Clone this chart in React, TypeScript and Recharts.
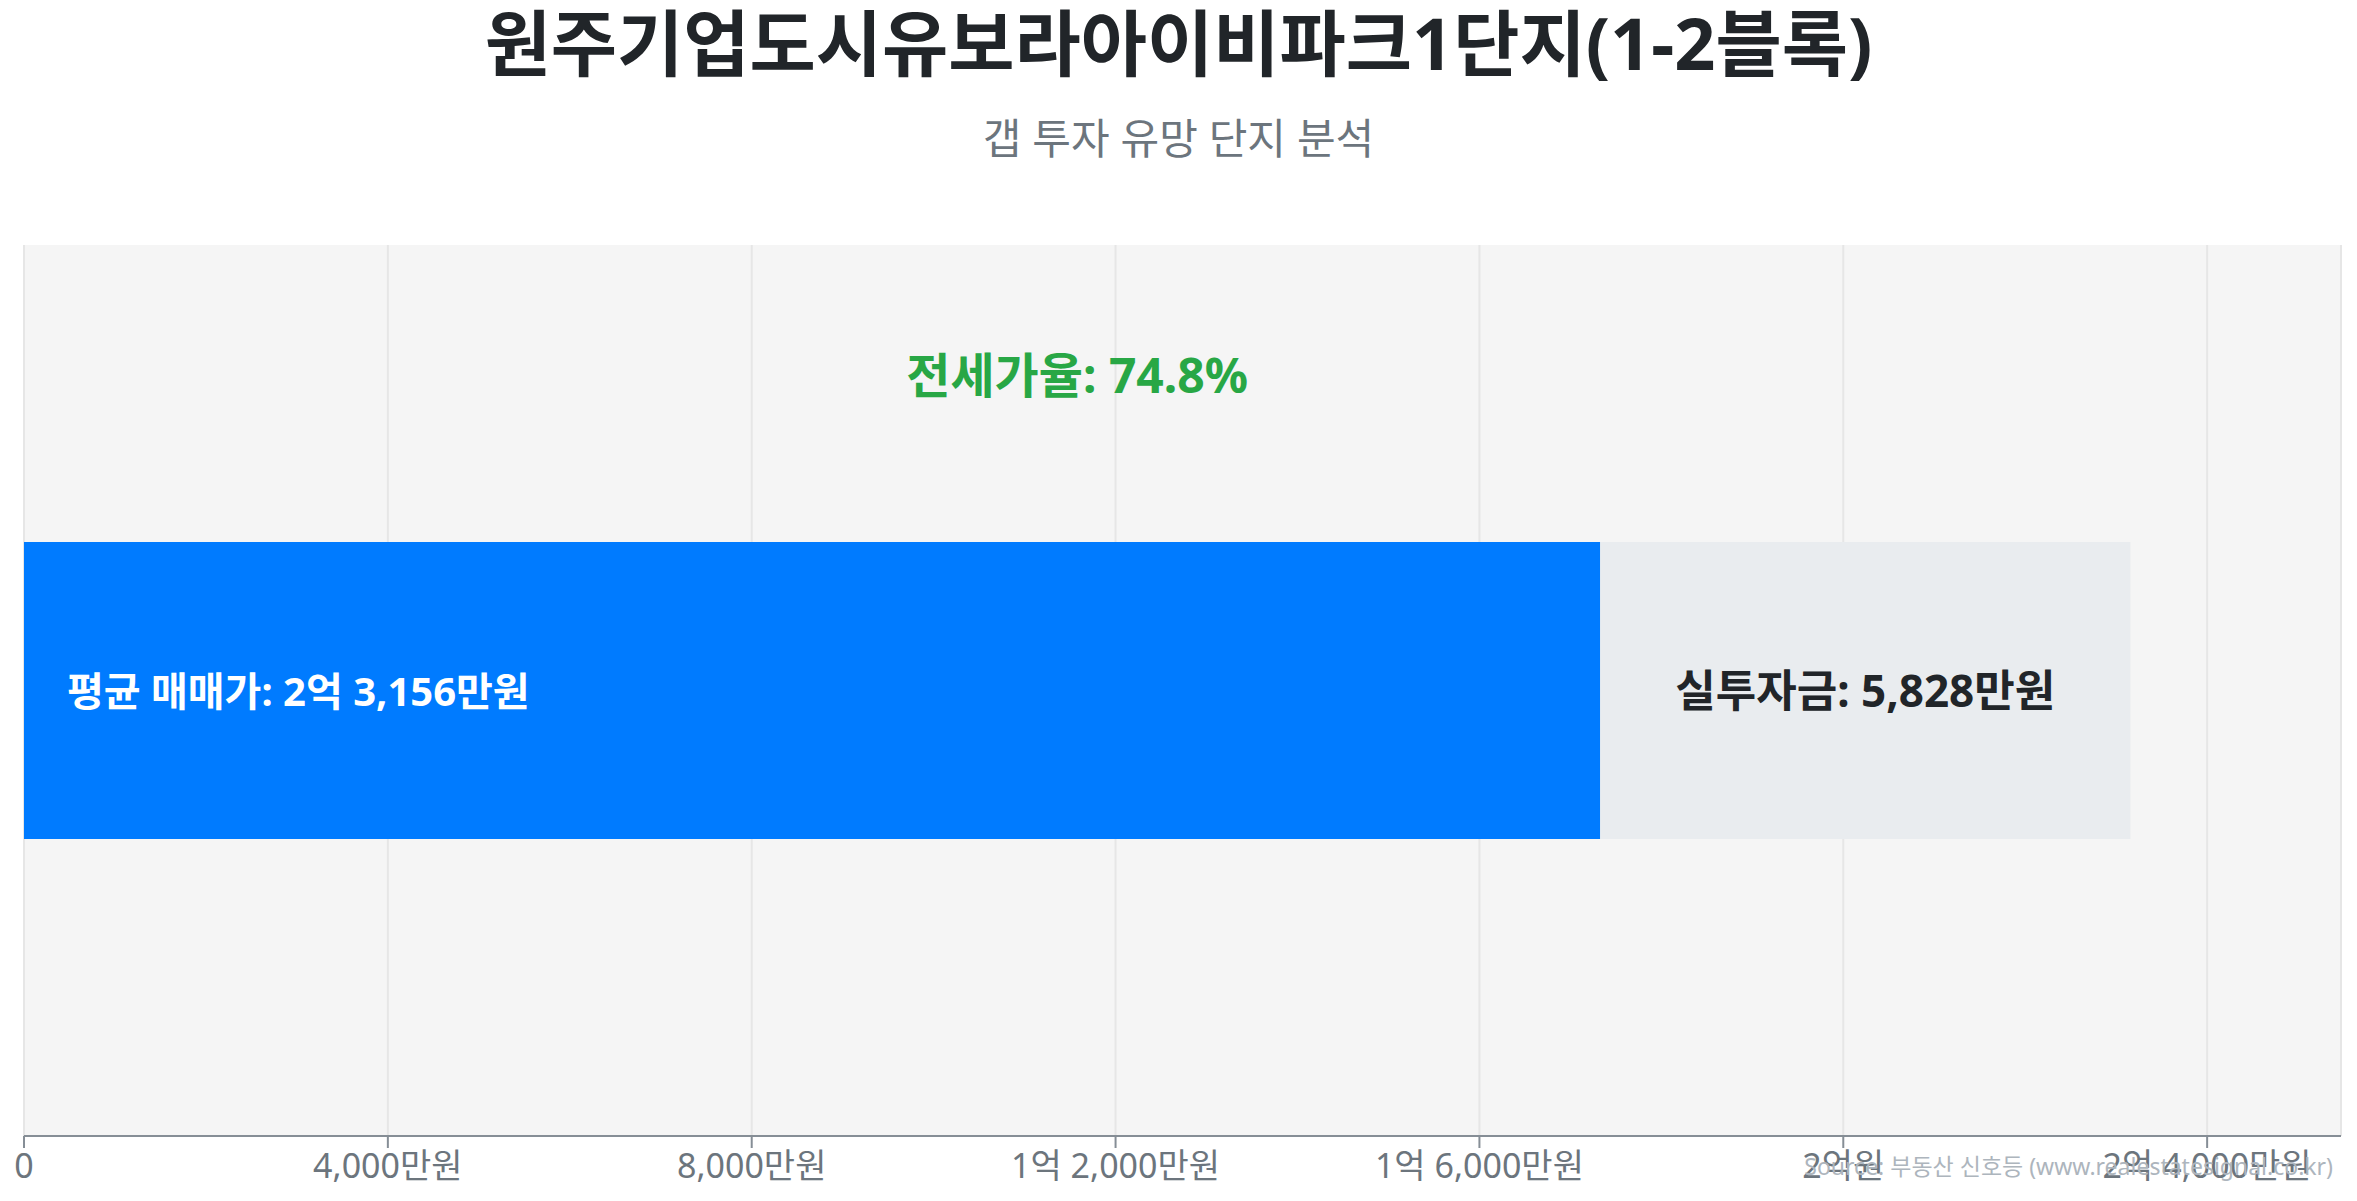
import React from "react";
import {
  BarChart,
  Bar,
  XAxis,
  YAxis,
  CartesianGrid,
  LabelList,
  ReferenceLine,
} from "recharts";

const categories = ["원주기업도시유보라아이비파크1단지(1-2블록)"];
const avgPrice = [23156]; // 평균 매매가 (만원)
const jeonseRate = [74.8]; // 전세가율 (%)
const gapInvestment = [5828]; // 실투자금 (만원)
const jeonsePart = [17328]; // 매매가 - 실투자금
const xTicks = [0, 4000, 8000, 12000, 16000, 20000, 24000];

const data = categories.map((name, i) => ({
  name,
  jeonse: jeonsePart[i],
  gap: gapInvestment[i],
  price: avgPrice[i],
}));

const FONT = "'Noto Sans', 'Noto Sans CJK KR', sans-serif";

function formatMan(v: number) {
  if (v === 0) return "0";
  const eok = Math.floor(v / 10000);
  const man = v % 10000;
  if (eok > 0 && man > 0) return `${eok}억 ${man.toLocaleString()}만원`;
  if (eok > 0) return `${eok}억원`;
  return `${man.toLocaleString()}만원`;
}

const PriceLabel = (props: any) => {
  const { x, y, height } = props;
  return (
    <text
      x={x + 43}
      y={y + height / 2}
      fill="#ffffff"
      fontSize={40}
      fontWeight="bold"
      dominantBaseline="central"
    >
      평균 매매가: {formatMan(avgPrice[0])}
    </text>
  );
};

const GapLabel = (props: any) => {
  const { x, y, width, height } = props;
  return (
    <text
      x={x + width / 2}
      y={y + height / 2}
      fill="#212529"
      fontSize={44}
      fontWeight="bold"
      textAnchor="middle"
      dominantBaseline="central"
    >
      실투자금: {gapInvestment[0].toLocaleString()}만원
    </text>
  );
};

const RateLabel = (props: any) => {
  const { viewBox } = props;
  return (
    <text
      x={viewBox.x}
      y={viewBox.y + 129}
      fill="#28a745"
      fontSize={48}
      fontWeight="bold"
      textAnchor="middle"
      dominantBaseline="central"
    >
      전세가율: {jeonseRate[0]}%
    </text>
  );
};

export default function App() {
  const domainMax = avgPrice[0] * 1.1;
  return (
    <div style={{ position: "relative", width: 2341, height: 1185, fontFamily: FONT }}>
      <div
        style={{
          position: "absolute",
          top: 0,
          left: 0,
          width: "100%",
          textAlign: "center",
          fontSize: 72,
          fontWeight: "bold",
          color: "#212529",
          lineHeight: "68px",
        }}
      >
        {categories[0]}
      </div>
      <div
        style={{
          position: "absolute",
          top: 106,
          left: 0,
          width: "100%",
          textAlign: "center",
          fontSize: 42,
          color: "#6c757d",
          lineHeight: "48px",
        }}
      >
        갭 투자 유망 단지 분석
      </div>
      <BarChart
        width={2341}
        height={1185}
        data={data}
        layout="vertical"
        margin={{ top: 237, right: 8, bottom: 7, left: 16 }}
        barCategoryGap="33.333%"
      >
        <CartesianGrid horizontal={false} stroke="#e6e6e6" strokeWidth={2} fill="#f5f5f5" />
        <XAxis
          type="number"
          domain={[0, domainMax]}
          ticks={xTicks}
          tickFormatter={formatMan}
          height={50}
          tick={{ fill: "#6c757d", fontSize: 34 }}
          tickSize={12}
          tickMargin={6}
          axisLine={{ stroke: "#868e96", strokeWidth: 2 }}
          tickLine={{ stroke: "#868e96", strokeWidth: 2 }}
          interval={0}
        />
        <YAxis
          type="category"
          dataKey="name"
          width={0}
          tick={false}
          tickLine={false}
          axisLine={{ stroke: "#868e96", strokeWidth: 2 }}
        />
        <ReferenceLine
          x={avgPrice[0] / 2}
          stroke="none"
          ifOverflow="extendDomain"
          label={<RateLabel />}
        />
        <Bar dataKey="jeonse" stackId="a" fill="#007bff" isAnimationActive={false}>
          <LabelList dataKey="jeonse" content={<PriceLabel />} />
        </Bar>
        <Bar dataKey="gap" stackId="a" fill="#e9ecef" isAnimationActive={false}>
          <LabelList dataKey="gap" content={<GapLabel />} />
        </Bar>
      </BarChart>
      <div
        style={{
          position: "absolute",
          right: 16,
          top: 1143,
          fontSize: 23,
          color: "#adb5bd",
          lineHeight: "30px",
        }}
      >
        Source: 부동산 신호등 (www.realestatesignal.co.kr)
      </div>
    </div>
  );
}
